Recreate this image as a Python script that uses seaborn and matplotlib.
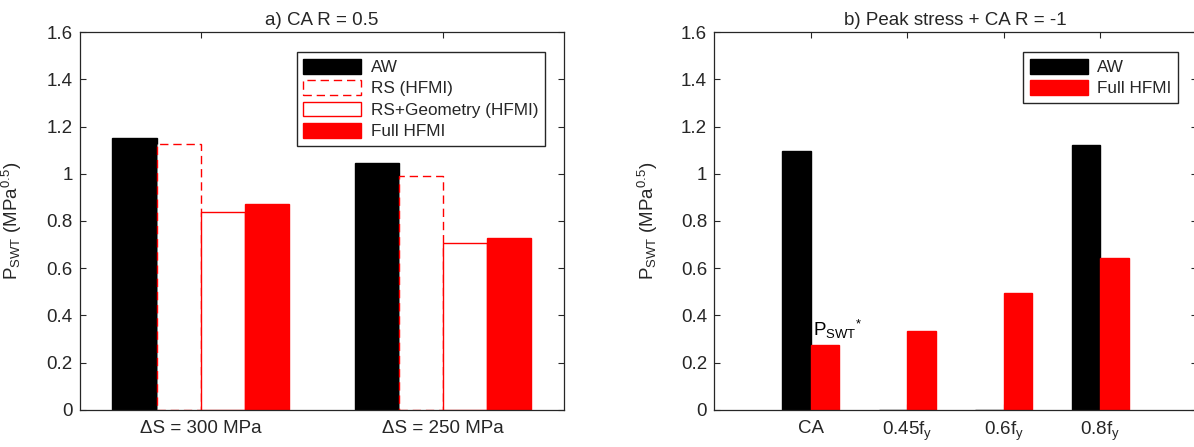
import numpy as np
import pandas as pd
import matplotlib
matplotlib.use("Agg")
import matplotlib.pyplot as plt
import seaborn as sns
from matplotlib.ticker import FixedLocator, FuncFormatter

# ---------------- data ----------------
left_conditions = ['ΔS = 300 MPa', 'ΔS = 250 MPa']
left_series = ['AW', 'RS (HFMI)', 'RS+Geometry (HFMI)', 'Full HFMI']
aw_a = [1.150, 1.045]
rs_a = [1.127, 0.990]
rsgeo_a = [0.840, 0.705]
full_a = [0.870, 0.727]

right_conditions = ['CA', '0.45f$_\\mathregular{y}$', '0.6f$_\\mathregular{y}$', '0.8f$_\\mathregular{y}$']
right_series = ['AW', 'Full HFMI']
aw_b = [1.095, 0.0, 0.0, 1.120]
full_b = [0.277, 0.333, 0.497, 0.643]

yticks = [0, 0.2, 0.4, 0.6, 0.8, 1.0, 1.2, 1.4, 1.6]
title_a = 'a) CA R = 0.5'
title_b = 'b) Peak stress + CA R = -1'
ylabel = 'P$_\\mathregular{SWT}$ (MPa$^\\mathregular{0.5}$)'
annot = 'P$_\\mathregular{SWT}$$^\\mathregular{*}$'

# ---------------- style ----------------
sns.set_theme(style='white')
plt.rcParams['font.family'] = ['Liberation Sans', 'DejaVu Sans']
plt.rcParams['mathtext.fontset'] = 'custom'
plt.rcParams['mathtext.rm'] = 'Liberation Sans'
plt.rcParams['mathtext.it'] = 'Liberation Sans'
dark = '#262626'
FS = 13.5
LFS = 12.3

fig = plt.figure(figsize=(11.94, 4.47), dpi=100)
axA = fig.add_axes([0.0667, 0.0828, 0.4057, 0.8456])
axB = fig.add_axes([0.598, 0.0828, 0.4045, 0.8456])

dfA = pd.DataFrame({
    'cond': left_conditions * 4,
    'series': sum([[s] * 2 for s in left_series], []),
    'val': aw_a + rs_a + rsgeo_a + full_a,
})
dfB = pd.DataFrame({
    'cond': right_conditions * 2,
    'series': sum([[s] * 4 for s in right_series], []),
    'val': aw_b + full_b,
})

sns.barplot(data=dfA, x='cond', y='val', hue='series', order=left_conditions,
            hue_order=left_series, width=0.73, gap=0, saturation=1,
            palette=['black', 'white', 'white', 'red'], legend=False, ax=axA,
            errorbar=None)
sns.barplot(data=dfB, x='cond', y='val', hue='series', order=right_conditions,
            hue_order=right_series, width=0.59, gap=0, saturation=1,
            palette=['black', 'red'], legend=False, ax=axB, errorbar=None)

styleA = [dict(fc='black', ec='black', ls='-'),
          dict(fc='white', ec='red', ls=(0, (6, 3.5))),
          dict(fc='white', ec='red', ls='-'),
          dict(fc='red', ec='red', ls='-')]
for cont, st in zip(axA.containers, styleA):
    for p in cont.patches:
        p.set_facecolor(st['fc'])
        p.set_edgecolor(st['ec'])
        p.set_linestyle(st['ls'])
        p.set_linewidth(1.0)
styleB = [dict(fc='black', ec='black'), dict(fc='red', ec='red')]
for cont, st in zip(axB.containers, styleB):
    for p in cont.patches:
        p.set_facecolor(st['fc'])
        p.set_edgecolor(st['ec'])
        p.set_linewidth(1.0)

def fmt(v, pos):
    return '%g' % v

for ax, title, xl in [(axA, title_a, (-0.5, 1.5)), (axB, title_b, (-1, 4))]:
    ax.set_xlim(*xl)
    ax.set_ylim(0, 1.6)
    ax.yaxis.set_major_locator(FixedLocator(yticks))
    ax.yaxis.set_major_formatter(FuncFormatter(fmt))
    ax.set_xlabel('')
    ax.set_ylabel(ylabel, fontsize=FS, color=dark)
    ax.set_title(title, fontsize=FS, color=dark, pad=5)
    ax.tick_params(axis='both', direction='in', length=4, width=0.8, color=dark,
                   labelsize=FS, labelcolor=dark, top=True, right=True,
                   bottom=True, left=True)
    ax.tick_params(axis='x', pad=7)
    ax.tick_params(axis='y', pad=5)
    for sp in ax.spines.values():
        sp.set_visible(True)
        sp.set_color(dark)
        sp.set_linewidth(0.9)

axA.yaxis.set_label_coords(-0.115, 0.5)
axB.yaxis.set_label_coords(-0.112, 0.5)

leg_kw = dict(loc='upper right', bbox_to_anchor=(0.961, 0.947), borderaxespad=0,
              fontsize=LFS, handlelength=3.4, handleheight=0.95, labelspacing=0.3,
              handletextpad=0.55, borderpad=0.4, fancybox=False, framealpha=1,
              edgecolor=dark)
legA = axA.legend([c.patches[0] for c in axA.containers], left_series, **leg_kw)
legA.get_frame().set_linewidth(1.0)
legB = axB.legend([c.patches[0] for c in axB.containers], right_series, **leg_kw)
legB.get_frame().set_linewidth(1.0)

axB.text(0.02, full_b[0] + 0.015, annot, fontsize=FS, color='black',
         ha='left', va='bottom')

fig.savefig('out.png', dpi=100)
